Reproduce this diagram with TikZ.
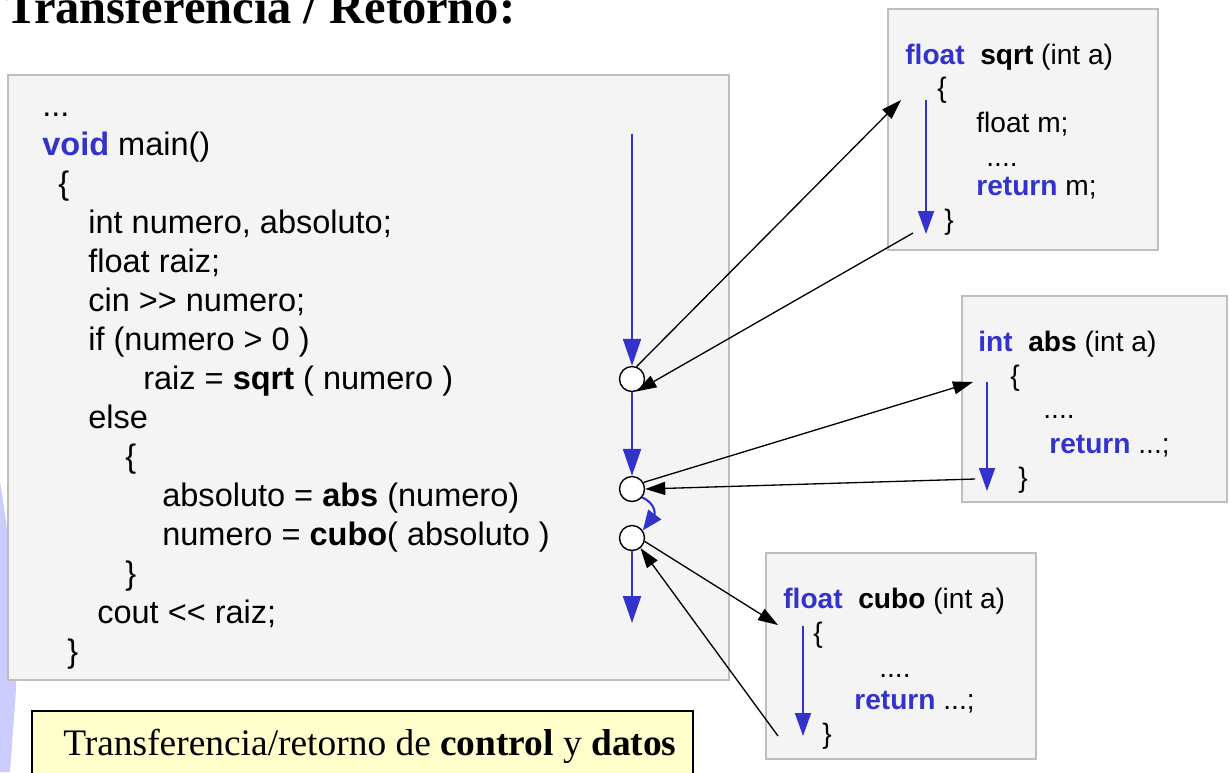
\documentclass[tikz,border=0pt]{standalone}
\usepackage{fontspec}
\setmainfont{Liberation Serif}
\newfontfamily\codefont{Liberation Sans}[Ligatures=TeXOff]
\usepackage{tikz}
\usetikzlibrary{arrows.meta,calc}

\definecolor{kwblue}{RGB}{51,51,204}
\definecolor{boxfill}{RGB}{244,244,244}
\definecolor{boxline}{RGB}{190,190,190}
\definecolor{notefill}{RGB}{255,255,204}
\definecolor{lavender}{RGB}{204,204,255}

\newcommand{\kw}[1]{\textcolor{kwblue}{\textbf{#1}}}

\tikzset{
  codebox/.style={draw=boxline, fill=boxfill, line width=1pt},
  code/.style={anchor=base west, inner sep=0pt, font=\codefont\fontsize{18.5}{22}\selectfont},
  subcode/.style={anchor=base west, inner sep=0pt, font=\codefont\fontsize{16}{19}\selectfont},
  flow/.style={draw=kwblue, line width=1.2pt, -{Triangle[length=0.54cm,width=0.36cm]}},
  subflow/.style={draw=kwblue, line width=1pt, -{Triangle[length=0.46cm,width=0.32cm]}},
  call/.style={draw=black, line width=0.75pt, -{Triangle[length=0.4cm,width=0.26cm]}},
  point/.style={circle, draw, fill=white, line width=0.8pt, minimum size=0.5cm, inner sep=0pt},
}

\begin{document}
\begin{tikzpicture}[x=0.02cm,y=-0.02cm]
	\useasboundingbox (0,0) rectangle (1229,772);

	% background bits
	\fill[lavender] (0,482) .. controls (10,540) and (18,620) .. (16,690) -- (10,772) -- (0,772) -- cycle;
	\node[anchor=base west, inner sep=0pt, font=\bfseries\fontsize{27.6}{32}\selectfont] (title) at (5,23) {Transferencia / Retorno:};

	% main program
	\draw[codebox] (8,75) rectangle (729,680);
	\node[code] (m0) at (42,116) {...};
	\node[code] (m1) at (42,155) {\kw{void} main()};
	\node[code] (m2) at (58,194) {\{};
	\node[code] (m3) at (88,233) {int numero, absoluto;};
	\node[code] (m4) at (88,272) {float raiz;};
	\node[code] (m5) at (88,311) {cin >> numero;};
	\node[code] (m6) at (88,350) {if (numero > 0 )};
	\node[code] (m7) at (143,389) {raiz = \textbf{sqrt} ( numero )};
	\node[code] (m8) at (88,428) {else};
	\node[code] (m9) at (125,467) {\{};
	\node[code] (m10) at (162,506) {absoluto = \textbf{abs} (numero)};
	\node[code] (m11) at (162,545) {numero = \textbf{cubo}( absoluto )};
	\node[code] (m12) at (125,584) {\}};
	\node[code] (m13) at (97,623) {cout << raiz;};
	\node[code] (m14) at (67,662) {\}};

	% sqrt
	\draw[codebox] (888,9) rectangle (1158,250);
	\node[subcode] (s0) at (905,64) {\kw{float}\ \ \textbf{sqrt} (int a)};
	\node[subcode] (s1) at (937,97) {\{};
	\node[subcode] (s2) at (976,132) {float m;};
	\node[subcode] (s3) at (986,166) {....};
	\node[subcode] (s4) at (976,195) {\kw{return} m;};
	\node[subcode] (s5) at (944,229) {\}};

	% abs
	\draw[codebox] (962,296) rectangle (1227,502);
	\node[subcode] (a0) at (978,351) {\kw{int}\ \ \textbf{abs} (int a)};
	\node[subcode] (a1) at (1010,385) {\{};
	\node[subcode] (a2) at (1043,418) {....};
	\node[subcode] (a3) at (1049,453) {\kw{return} ...;};
	\node[subcode] (a4) at (1018,487) {\}};

	% cubo
	\draw[codebox] (766,553) rectangle (1036,759);
	\node[subcode] (k0) at (783,608) {\kw{float}\ \ \textbf{cubo} (int a)};
	\node[subcode] (k1) at (813,642) {\{};
	\node[subcode] (k2) at (879,677) {....};
	\node[subcode] (k3) at (854,709) {\kw{return} ...;};
	\node[subcode] (k4) at (822,743) {\}};

	% note
	\draw[fill=notefill, line width=0.8pt] (32,711) rectangle (693,800);
	\node[anchor=base west, inner sep=0pt, font=\fontsize{21.3}{25}\selectfont] (note) at (63,755)
		{Transferencia/retorno de \textbf{control} y \textbf{datos}};

	% control points
	\node[point] (c1) at (632,379) {};
	\node[point] (c2) at (632,489) {};
	\node[point] (c3) at (632,538) {};

	\coordinate (start) at (632,134);
	\coordinate (stop) at (632,623);
	\coordinate (sqrtIn) at (901,100);
	\coordinate (sqrtOut) at (913,233);
	\coordinate (absIn) at (973,382);
	\coordinate (absOut) at (975,479);
	\coordinate (cuboIn) at (778,625);
	\coordinate (cuboOut) at (778,736);
	\coordinate (sqrtTop) at (926,100);
	\coordinate (sqrtEnd) at (926,234);
	\coordinate (absTop) at (987,382);
	\coordinate (absEnd) at (987,491);
	\coordinate (cuboTop) at (803,626);
	\coordinate (cuboEnd) at (803,736);

	% flow of control
	\draw[flow] (start) -- (c1.north);
	\draw[flow] (c1.south) -- (c2.north);
	\draw[flow, -{Triangle[length=0.4cm,width=0.32cm]}] (c2.-40) .. controls +(14,6) and +(12,-16) .. (c3.35);
	\draw[flow] (c3.south) -- (stop);
	\draw[subflow] (sqrtTop) -- (sqrtEnd);
	\draw[subflow] (absTop) -- (absEnd);
	\draw[subflow] (cuboTop) -- (cuboEnd);

	% calls and returns
	\draw[call] (c1.70) -- (sqrtIn);
	\draw[call] (sqrtOut) -- (c1.-70);
	\draw[call] (c2.30) -- (absIn);
	\draw[call] (absOut) -- (c2.east);
	\draw[call] (c3.-15) -- (cuboIn);
	\draw[call] (cuboOut) -- (c3.-50);

\end{tikzpicture}
\end{document}
